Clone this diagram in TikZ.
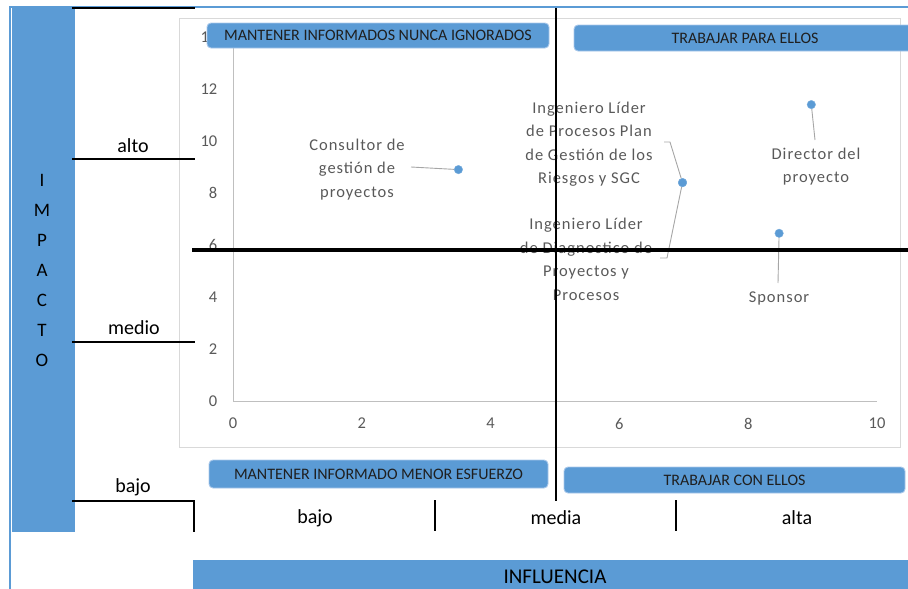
\documentclass[tikz,border=0pt]{standalone}
\usepackage{fontspec}
\setmainfont{Carlito}
\newfontfamily\lblfont{Carlito}[LetterSpace=6]
\usetikzlibrary{calc}
\definecolor{barblue}{HTML}{5B9BD5}
\definecolor{boxedge}{HTML}{A9C8EA}
\definecolor{lblgray}{HTML}{595959}
\definecolor{framegray}{HTML}{D9D9D9}
\definecolor{axisgray}{HTML}{BFBFBF}
\begin{document}
\begin{tikzpicture}[x=1pt,y=-1pt,
  quadbox/.style={fill=barblue, draw=boxedge, line width=0.9pt, rounded corners=4pt,
    inner sep=0pt, font=\fontsize{16}{18}\selectfont, text=black!88},
  level/.style={font=\fontsize{20}{24}\selectfont, text=black},
  rule/.style={line width=2pt, black},
  heavy/.style={line width=3.5pt, black},
  tick/.style={font=\fontsize{16.5}{20}\selectfont, text=lblgray},
  datalbl/.style={font=\lblfont\fontsize{16.5}{23.5}\selectfont, text=lblgray, align=center, inner sep=0pt},
  leader/.style={draw=gray!70, line width=0.9pt},
  dot/.style={circle, fill=barblue, draw=barblue!80!white, inner sep=0pt, minimum size=8.5pt}]
\useasboundingbox (0,0) rectangle (908,589);

% outer frame and the IMPACTO strip
\draw[barblue, line width=1.2pt] (10,589) -- (10,7) -- (908,7);
\fill[barblue] (12,8) rectangle (75,532);
\node[font=\fontsize{19}{30}\selectfont, align=center, text=black] (impacto) at (42,270)
  {I\\M\\P\\A\\C\\T\\O};

% INFLUENCIA bar
\fill[barblue] (193,560) rectangle (910,591);
\node[level, font=\fontsize{21}{24}\selectfont] (influencia) at (555,577) {INFLUENCIA};

% chart frame
\draw[framegray, line width=0.9pt] (179,18) rectangle (900,447);

% chart axes, ticks, data points
\coordinate (o) at (233,401);
\begin{scope}[shift={(o)}]
\begin{scope}[x=64.4pt, y=26pt]
  \draw[axisgray, line width=0.9pt] (0,14) -- (0,0) -- (10,0);
  \foreach \v in {0,2,...,14} \node[tick, anchor=east] (yt\v) at (-0.19,\v) {\v};
  \foreach \v in {0,2,...,10} \node[tick] (xt\v) at (\v,-0.87) {\v};
  \node[dot] (pC) at (3.5,8.9) {};
  \node[dot] (pI) at (6.98,8.4) {};
  \node[dot] (pD) at (8.98,11.4) {};
  \node[dot] (pS) at (8.48,6.45) {};
\end{scope}
\end{scope}

% data labels
\node[datalbl] (lC) at (357,169.5) {Consultor de\\gestión de\\proyectos};
\node[datalbl] (lP) at (589,144) {Ingeniero Líder\\de Procesos Plan\\de Gestión de los\\Riesgos y SGC};
\node[datalbl] (lG) at (586,259.5) {Ingeniero Líder\\de Diagnostico de\\Proyectos y\\Procesos};
\node[datalbl] (lD) at (816,166.5) {Director del\\proyecto};
\node[datalbl] (lS) at (779,298) {Sponsor};

% leader lines
\coordinate (cC) at (411,167);
\coordinate (cP1) at (664,142);
\coordinate (cP2) at (670,142);
\coordinate (cG1) at (667,258);
\coordinate (cG2) at (660,258);
\coordinate (cD) at (815,140);
\coordinate (cS) at (778,283);
\draw[leader] (cC) -- (pC);
\draw[leader] (cP1) -- (cP2) -- (pI);
\draw[leader] (pI) -- (cG1) -- (cG2);
\draw[leader] (pD) -- (cD);
\draw[leader] (pS) -- (cS);
\node[dot] at (pI) {};

% quadrant dividers
\draw[rule] (556,8) -- (556,501);
\draw[heavy] (192,250) -- (908,250);

% quadrant strategy boxes
\node[quadbox, minimum width=342pt, minimum height=25pt] (q1) at (378,35.5) {MANTENER INFORMADOS NUNCA IGNORADOS};
\node[quadbox, minimum width=342pt, minimum height=26pt] (q2) at (745,38) {TRABAJAR PARA ELLOS};
\node[quadbox, minimum width=339pt, minimum height=28pt] (q3) at (378.5,474) {MANTENER INFORMADO MENOR ESFUERZO};
\node[quadbox, minimum width=341pt, minimum height=26pt] (q4) at (734.5,480) {TRABAJAR CON ELLOS};

% impact level scale
\draw[rule] (72,8) -- (195,8);
\draw[rule] (72,159) -- (195,159);
\draw[rule] (72,342) -- (195,342);
\draw[rule] (72,500.5) -- (194,500.5) -- (194,532);
\node[level] (ialto) at (133,146) {alto};
\node[level] (imedio) at (134,328) {medio};
\node[level] (ibajo) at (133,487) {bajo};

% influence level scale
\draw[rule] (435,500) -- (435,531);
\draw[rule] (676,500) -- (676,531);
\node[level] (fbajo) at (315,518) {bajo};
\node[level] (fmedia) at (556,518) {media};
\node[level] (falta) at (797,518) {alta};
\end{tikzpicture}
\end{document}
